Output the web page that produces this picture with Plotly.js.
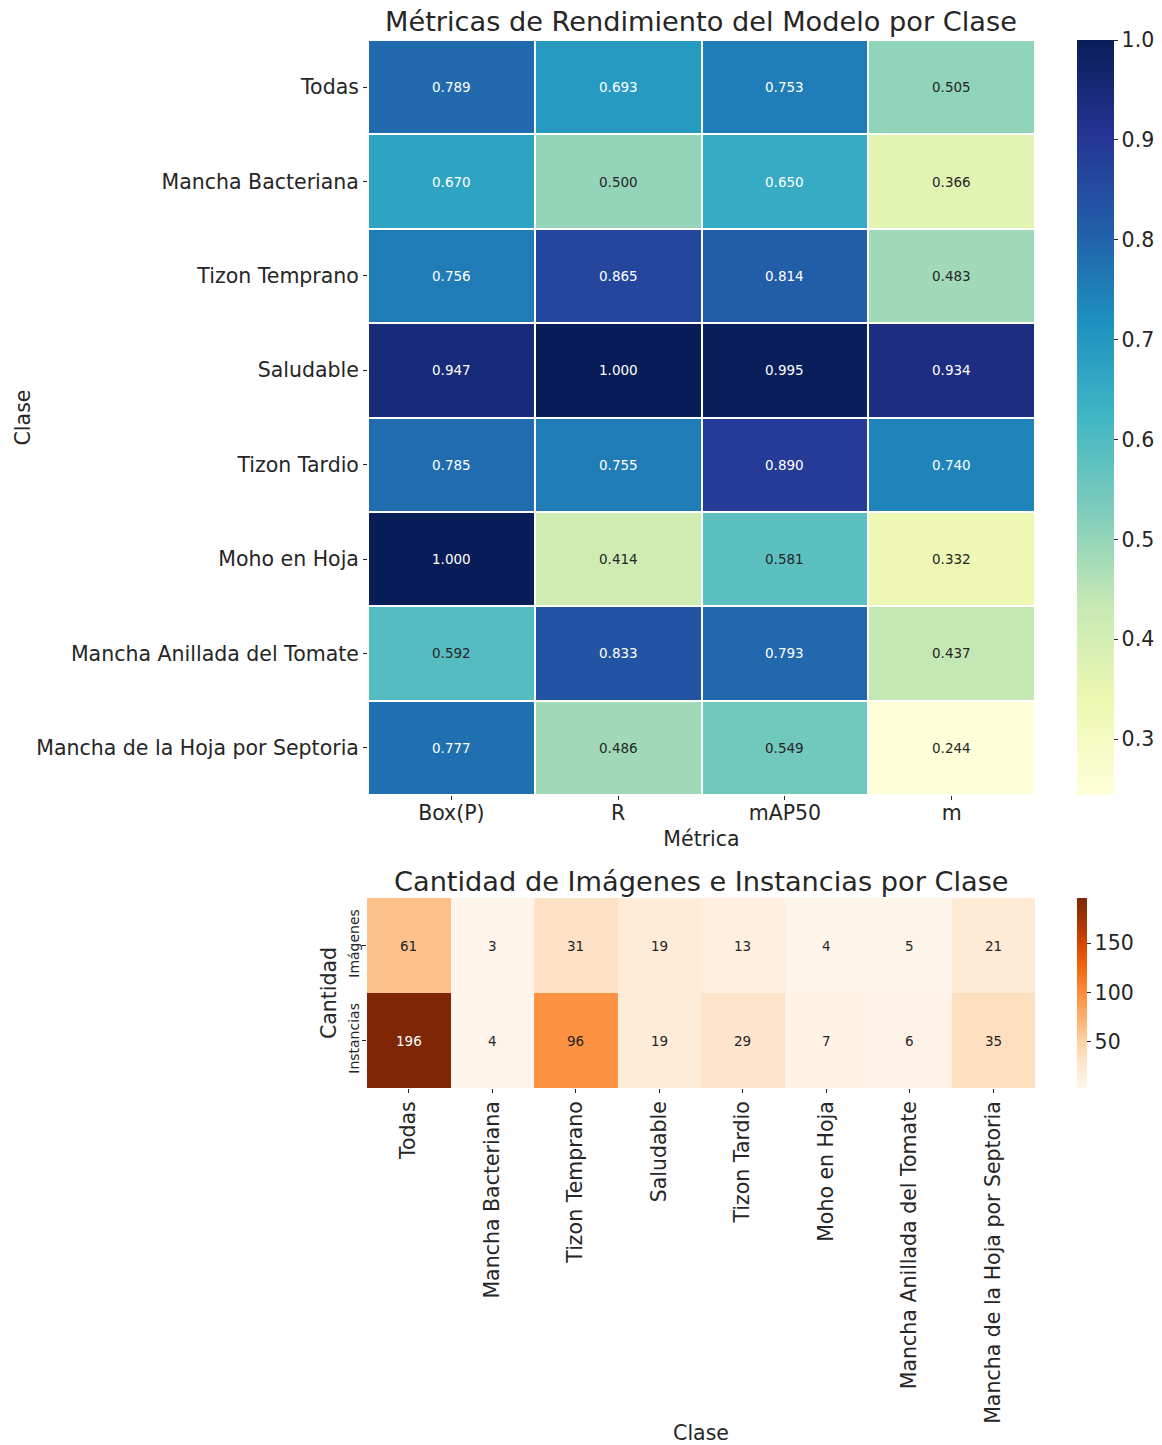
<!DOCTYPE html>
<html>
<head>
<meta charset="utf-8">
<script src="https://cdn.plot.ly/plotly-3.0.1.min.js"></script>
<style>html,body{margin:0;padding:0;background:#fff;}#chart{width:1162px;height:1445px;}</style>
</head>
<body>
<div id="chart"></div>
<script>
// ---- Data ----
const classes = ["Todas","Mancha Bacteriana","Tizon Temprano","Saludable","Tizon Tardio","Moho en Hoja","Mancha Anillada del Tomate","Mancha de la Hoja por Septoria"];
const metrics = ["Box(P)","R","mAP50","m"];
const boxP  = [0.789,0.670,0.756,0.947,0.785,1.000,0.592,0.777];
const recall = [0.693,0.500,0.865,1.000,0.755,0.414,0.833,0.486];
const mAP50 = [0.753,0.650,0.814,0.995,0.890,0.581,0.793,0.549];
const mVals = [0.505,0.366,0.483,0.934,0.740,0.332,0.437,0.244];
const countRows = ["Imágenes","Instancias"];
const imagenes = [61,3,31,19,13,4,5,21];
const instancias = [196,4,96,19,29,7,6,35];

// ---- Colorscales ----
const ylgnbu = ["#ffffd9","#edf8b1","#c7e9b4","#7fcdbb","#41b6c4","#1d91c0","#225ea8","#253494","#081d58"];
const oranges = ["#fff5eb","#fee6ce","#fdd0a2","#fdae6b","#fd8d3c","#f16913","#d94801","#a63603","#7f2704"];
const toScale = c => c.map((col,i)=>[i/(c.length-1), col]);

const W = 1162, H = 1445;
const px = v => v / W;
const py = v => 1 - v / H;
const FONT = "DejaVu Sans, sans-serif";
const TXT = "#262626";
const TICK = 20.5;

const metricCols = [boxP, recall, mAP50, mVals];
const zTop = classes.map((c,i)=>metricCols.map(col=>col[i]));
const zBot = [imagenes, instancias];

const traces = [
  {
    type: "heatmap", x: metrics, y: classes, z: zTop,
    colorscale: toScale(ylgnbu), zmin: 0.244, zmax: 1.0,
    xgap: 2, ygap: 2, xaxis: "x", yaxis: "y", hoverinfo: "skip",
    colorbar: {
      x: px(1077), xanchor: "left", xpad: 0, ypad: 0,
      y: py(40), yanchor: "top", len: 755/H, lenmode: "fraction",
      thickness: 37, outlinewidth: 0,
      tickvals: [0.3,0.4,0.5,0.6,0.7,0.8,0.9,1.0], ticktext: ["0.3","0.4","0.5","0.6","0.7","0.8","0.9","1.0"],
      ticks: "outside", ticklen: 4, tickcolor: TXT,
      tickfont: {family: FONT, size: TICK, color: TXT}
    }
  },
  {
    type: "heatmap", x: classes, y: countRows, z: zBot,
    colorscale: toScale(oranges), zmin: 3, zmax: 196,
    xaxis: "x2", yaxis: "y2", hoverinfo: "skip",
    colorbar: {
      x: px(1077), xanchor: "left", xpad: 0, ypad: 0,
      y: py(898), yanchor: "top", len: 190/H, lenmode: "fraction",
      thickness: 10, outlinewidth: 0,
      tickvals: [50,100,150],
      ticks: "outside", ticklen: 4, tickcolor: TXT,
      tickfont: {family: FONT, size: TICK, color: TXT}
    }
  }
];

const annotations = [];
classes.forEach((c,i)=>{
  metrics.forEach((m,j)=>{
    const v = metricCols[j][i];
    annotations.push({x: m, y: c, xref: "x", yref: "y", text: v.toFixed(3), showarrow: false,
      font: {family: FONT, size: 13.5, color: v >= 0.62 ? "#ffffff" : TXT}});
  });
});
countRows.forEach((r,i)=>{
  classes.forEach((c,j)=>{
    const v = zBot[i][j];
    annotations.push({x: c, y: r, xref: "x2", yref: "y2", text: String(v), showarrow: false,
      font: {family: FONT, size: 13.5, color: v >= 130 ? "#ffffff" : TXT}});
  });
});
annotations.push({xref: "paper", yref: "paper", x: px(701), y: py(21), xanchor: "center", yanchor: "middle",
  text: "Métricas de Rendimiento del Modelo por Clase", showarrow: false, font: {family: FONT, size: 27.2, color: TXT}});
annotations.push({xref: "paper", yref: "paper", x: px(701), y: py(881), xanchor: "center", yanchor: "middle",
  text: "Cantidad de Imágenes e Instancias por Clase", showarrow: false, font: {family: FONT, size: 27.2, color: TXT}});

const axBase = {showgrid: false, zeroline: false, showline: false, automargin: false,
  ticks: "outside", ticklen: 4, tickcolor: TXT, tickfont: {family: FONT, size: TICK, color: TXT}};

const layout = {
  width: W, height: H, margin: {l: 0, r: 0, t: 0, b: 0},
  paper_bgcolor: "#fff", plot_bgcolor: "#fff",
  font: {family: FONT, color: TXT},
  showlegend: false,
  xaxis: Object.assign({}, axBase, {domain: [px(368), px(1035)], anchor: "y", ticklabelstandoff: -5,
    title: {text: "Métrica", font: {family: FONT, size: TICK, color: TXT}, standoff: 8}}),
  yaxis: Object.assign({}, axBase, {domain: [py(795), py(40)], anchor: "x", autorange: "reversed",
    title: {text: "Clase", font: {family: FONT, size: TICK, color: TXT}, standoff: 0}}),
  xaxis2: Object.assign({}, axBase, {domain: [px(367), px(1035)], anchor: "y2", tickangle: -90,
    title: {text: "Clase", font: {family: FONT, size: TICK, color: TXT}, standoff: 6}}),
  yaxis2: Object.assign({}, axBase, {domain: [py(1088), py(898)], anchor: "x2", autorange: "reversed", tickangle: -90,
    ticklabelstandoff: -3,
    tickfont: {family: FONT, size: 14, color: TXT},
    title: {text: "Cantidad", font: {family: FONT, size: TICK, color: TXT}, standoff: 4}}),
  annotations: annotations
};

Plotly.newPlot("chart", traces, layout, {displayModeBar: false, staticPlot: true});
</script>
</body>
</html>
